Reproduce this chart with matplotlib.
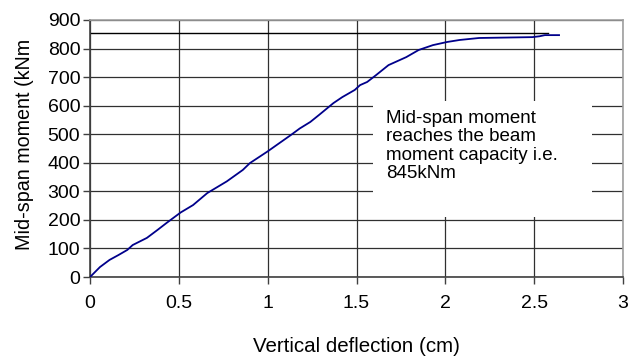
import numpy as np
import matplotlib.pyplot as plt
from matplotlib.patches import Rectangle

plt.rcParams['font.family'] = ['Liberation Sans', 'DejaVu Sans']

# deflection (cm) and mid-span moment (kNm)
defl = [0.0, 0.056, 0.11, 0.16, 0.21, 0.24, 0.32, 0.38, 0.43, 0.51, 0.58,
        0.66, 0.77, 0.86, 0.90, 1.0, 1.05, 1.13, 1.18, 1.24, 1.29, 1.37,
        1.42, 1.49, 1.52, 1.56, 1.61, 1.68, 1.78, 1.85, 1.93, 2.01, 2.08,
        2.19, 2.49, 2.53, 2.56, 2.64]
moment = [0, 35, 60, 77, 95, 112, 137, 165, 189, 226, 252,
          294, 335, 375, 399, 440, 462, 497, 520, 543, 568, 609,
          630, 655, 672, 683, 707, 742, 770, 795, 812, 823, 830,
          837, 840, 843, 847, 847]

cap_x = [0.0, 2.58]
cap_y = [854, 854]

note = "Mid-span moment\nreaches the beam\nmoment capacity i.e.\n845kNm"

fig = plt.figure(figsize=(6.3, 3.57), dpi=100)
ax = fig.add_axes([0.1429, 0.224, 0.846, 0.72])

ax.set_xlim(0, 3)
ax.set_ylim(0, 900)
ax.set_xticks(np.arange(0, 3.01, 0.5))
ax.set_xticklabels(['0', '0.5', '1', '1.5', '2', '2.5', '3'])
ax.set_yticks(np.arange(0, 901, 100))
ax.grid(True, color='#303030', lw=0.9, zorder=0)
ax.set_axisbelow(True)

# white box behind the note hides the grid
ax.add_patch(Rectangle((1.593, 210), 1.232, 405, facecolor='white',
                       edgecolor='none', zorder=1))

ax.plot(cap_x, cap_y, color='black', lw=1.0, zorder=2)
ax.plot(defl, moment, color='#00008B', lw=1.3, zorder=3)

ax.text(1.665, 586, note, fontsize=13.5, va='top', ha='left',
        linespacing=1.12, zorder=4)

for s in ['left', 'bottom']:
    ax.spines[s].set_color('#404040')
    ax.spines[s].set_linewidth(1.2)
for s in ['top', 'right']:
    ax.spines[s].set_color('#a0a0a0')
    ax.spines[s].set_linewidth(1.2)

ax.tick_params(axis='both', direction='out', length=5, width=1,
               color='#404040', labelsize=14)
ax.tick_params(axis='x', pad=8)
ax.tick_params(axis='y', pad=2)

ax.set_xlabel('Vertical deflection (cm)', fontsize=14.8, labelpad=18)
ax.set_ylabel('Mid-span moment (kNm', fontsize=14.2)
ax.yaxis.set_label_coords(-0.106, 0.514)

fig.savefig('out.png', dpi=100)
